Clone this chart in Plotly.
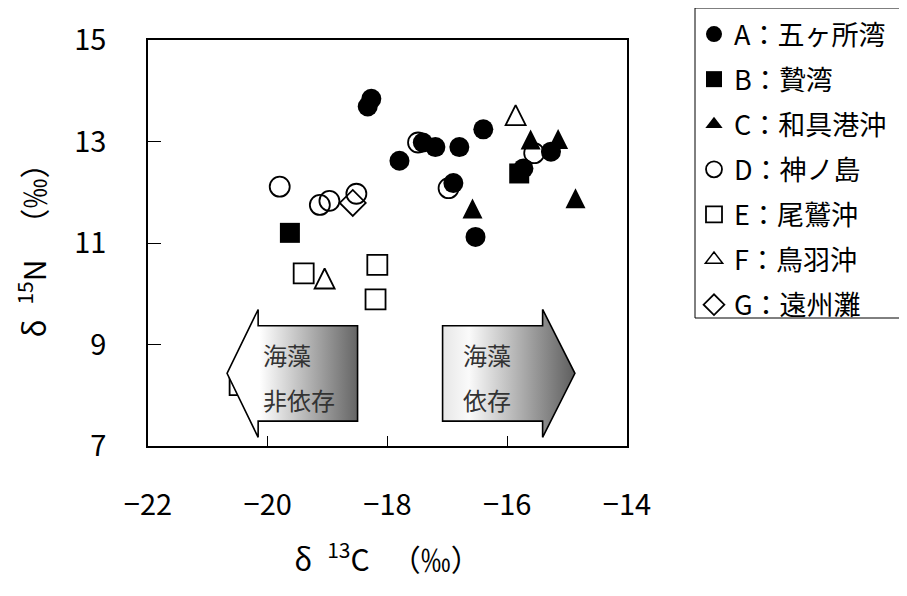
import base64
import plotly.graph_objects as go

# ---------------- data ----------------
A_x = [-18.27, -18.33, -17.80, -17.41, -17.20, -16.80, -16.40, -16.90, -16.53, -15.73, -15.27]
A_y = [13.84, 13.69, 12.62, 12.98, 12.89, 12.89, 13.24, 12.18, 11.12, 12.47, 12.80]
B_x = [-19.63, -15.80]
B_y = [11.20, 12.37]
C_x = [-16.58, -15.61, -15.15, -14.86]
C_y = [11.68, 13.04, 13.05, 11.88]
D_x = [-19.80, -19.13, -18.97, -18.52, -17.49, -16.98, -15.55]
D_y = [12.11, 11.75, 11.83, 11.97, 12.98, 12.08, 12.77]
E_x = [-19.40, -18.17, -18.20, -20.47]
E_y = [10.40, 10.57, 9.89, 8.20]
F_x = [-19.05, -15.86]
F_y = [10.30, 13.52]
G_x = [-18.58]
G_y = [11.79]

names = ["A：五ヶ所湾", "B：贄湾", "C：和具港沖", "D：神ノ島", "E：尾鷲沖", "F：鳥羽沖", "G：遠州灘"]
x_tickvals = [-22, -20, -18, -16, -14]
y_tickvals = [7, 9, 11, 13, 15]
x_title = "δ\u2002<sup>13</sup>C\u2009　（‰）"
y_title = "δ\u2002<sup>15</sup>N\u2009　（‰）"
arrow_left_text = ["海藻", "非依存"]
arrow_right_text = ["海藻", "依存"]

FONT = "Noto Sans CJK JP"
# the page body adds an 8 px margin, so the figure is laid out 8 px smaller
OFF = 8
W, H = 907 - OFF, 596 - OFF
ML, MT = 148 - OFF, 40 - OFF
PW, PH = 479, 406
MR = W - ML - PW
MB = H - MT - PH
XR = (-22, -14)
YR = (7, 15)
pxx = PW / (XR[1] - XR[0])
pxy = PH / (YR[1] - YR[0])


def paper_x(px):
    return (px - OFF - ML) / PW


def paper_y(py):
    return (MT + PH - (py - OFF)) / PH


fig = go.Figure()

MS = 20
styles = [
    dict(symbol="circle", color="black", line=dict(width=0)),
    dict(symbol="square", color="black", line=dict(width=0)),
    dict(symbol="arrow-down", angle=180, standoff=MS / 2, color="black", line=dict(width=0)),
    dict(symbol="circle-open", color="black", line=dict(width=1.8, color="black")),
    dict(symbol="square-open", color="black", line=dict(width=1.8, color="black")),
    dict(symbol="arrow-down-open", angle=180, standoff=MS / 2, color="black", line=dict(width=1.8, color="black")),
    dict(symbol="diamond-open", color="black", line=dict(width=1.8, color="black")),
]
legend_proxy = {2: dict(symbol="triangle-up", color="black", size=15, line=dict(width=0)),
                5: dict(symbol="triangle-up-open", color="black", size=15, line=dict(width=1.5, color="black"))}
xs = [A_x, B_x, C_x, D_x, E_x, F_x, G_x]
ys = [A_y, B_y, C_y, D_y, E_y, F_y, G_y]
for i, (nm, xv, yv, st) in enumerate(zip(names, xs, ys, styles)):
    proxy = i in legend_proxy
    fig.add_trace(go.Scatter(
        x=xv, y=yv, mode="markers", name=nm, legendgroup=f"g{i}", showlegend=not proxy,
        marker=dict(size=MS, **st), cliponaxis=False,
    ))
    if proxy:
        # legend-only entry showing the triangle symbol
        fig.add_trace(go.Scatter(x=[None], y=[None], mode="markers", name=nm, legendgroup=f"g{i}",
                                 marker=legend_proxy[i], hoverinfo="skip"))


def arrow_image(points_px, w, h, stops, x_left, y_top, pad=2):
    pts = " ".join(f"{x + pad:.1f},{y + pad:.1f}" for x, y in points_px)
    stop_xml = "".join(f'<stop offset="{o}" stop-color="{c}"/>' for o, c in stops)
    svg = (f'<svg xmlns="http://www.w3.org/2000/svg" width="{w + 2 * pad:.1f}" height="{h + 2 * pad:.1f}" '
           f'viewBox="0 0 {w + 2 * pad:.1f} {h + 2 * pad:.1f}" preserveAspectRatio="none">'
           f'<defs><linearGradient id="g" x1="0" y1="0" x2="1" y2="0">{stop_xml}</linearGradient></defs>'
           f'<polygon points="{pts}" fill="url(#g)" stroke="black" stroke-width="1.6" '
           f'stroke-linejoin="miter"/></svg>')
    src = "data:image/svg+xml;base64," + base64.b64encode(svg.encode()).decode()
    return dict(source=src, xref="x", yref="y", x=x_left - pad / pxx, y=y_top + pad / pxy,
                sizex=(w + 2 * pad) / pxx, sizey=(h + 2 * pad) / pxy, sizing="stretch",
                xanchor="left", yanchor="top", layer="above")


# arrow geometry (data units)
y_mid = 8.43
body_h = 0.94
head_h = 1.26
# left arrow
L_tip, L_head, L_end = -20.68, -20.16, -18.50
w = (L_end - L_tip) * pxx
h = 2 * head_h * pxy
hx = (L_head - L_tip) * pxx
bt = (head_h - body_h) * pxy
bb = (head_h + body_h) * pxy
pts = [(0, h / 2), (hx, 0), (hx, bt), (w, bt), (w, bb), (hx, bb), (hx, h)]
img_left = arrow_image(pts, w, h, [(0, "#ffffff"), (0.25, "#ffffff"), (1, "#656565")], L_tip, y_mid + head_h)
# right arrow
R_start, R_head, R_tip = -17.08, -15.41, -14.87
w = (R_tip - R_start) * pxx
hx = (R_head - R_start) * pxx
pts = [(0, bt), (hx, bt), (hx, 0), (w, h / 2), (hx, h), (hx, bb), (0, bb)]
img_right = arrow_image(pts, w, h, [(0, "#e6e6e6"), (0.2, "#fafafa"), (1, "#5e5e5e")], R_start, y_mid + head_h)

annots = []
for xt, texts in ((-20.12, arrow_left_text), (-16.77, arrow_right_text)):
    for yt, t in zip((8.80, 7.92), texts):
        annots.append(dict(x=xt, y=yt, xref="x", yref="y", text=t, showarrow=False,
                           xanchor="left", yanchor="middle",
                           font=dict(family=FONT, size=24, color="#333333")))

fig.update_layout(
    width=W, height=H,
    margin=dict(l=ML, r=MR, t=MT, b=MB, autoexpand=False),
    paper_bgcolor="white", plot_bgcolor="white",
    font=dict(family=FONT, color="black"),
    showlegend=True,
    legend=dict(x=paper_x(694), y=paper_y(10), xanchor="left", yanchor="top",
                bgcolor="rgba(0,0,0,0)", borderwidth=0, maxheight=700,
                font=dict(family=FONT, size=27, color="black"), tracegroupgap=7,
                itemsizing="trace"),
    images=[img_left, img_right],
    annotations=annots,
    shapes=[dict(type="rect", xref="paper", yref="paper",
                 x0=paper_x(695), x1=paper_x(905.5), y0=paper_y(318), y1=paper_y(8),
                 line=dict(color="black", width=1), fillcolor="rgba(0,0,0,0)", layer="above")],
)
fig.update_xaxes(range=list(XR), tickvals=x_tickvals, ticks="inside", ticklen=10, tickwidth=1,
                 tickcolor="black", showline=True, linecolor="black", linewidth=1.5, mirror=True,
                 showgrid=False, zeroline=False, ticklabelstandoff=32,
                 tickfont=dict(family=FONT, size=29, color="black"),
                 title=dict(text=x_title, font=dict(family=FONT, size=30, color="black"), standoff=28))
fig.update_yaxes(range=list(YR), tickvals=y_tickvals, ticks="inside", ticklen=13, tickwidth=1,
                 tickcolor="black", showline=True, linecolor="black", linewidth=1.5, mirror=True,
                 showgrid=False, zeroline=False, ticklabelstandoff=34,
                 tickfont=dict(family=FONT, size=29, color="black"),
                 title=dict(text=y_title, font=dict(family=FONT, size=30, color="black"), standoff=19))

fig.write_html("out.html")
